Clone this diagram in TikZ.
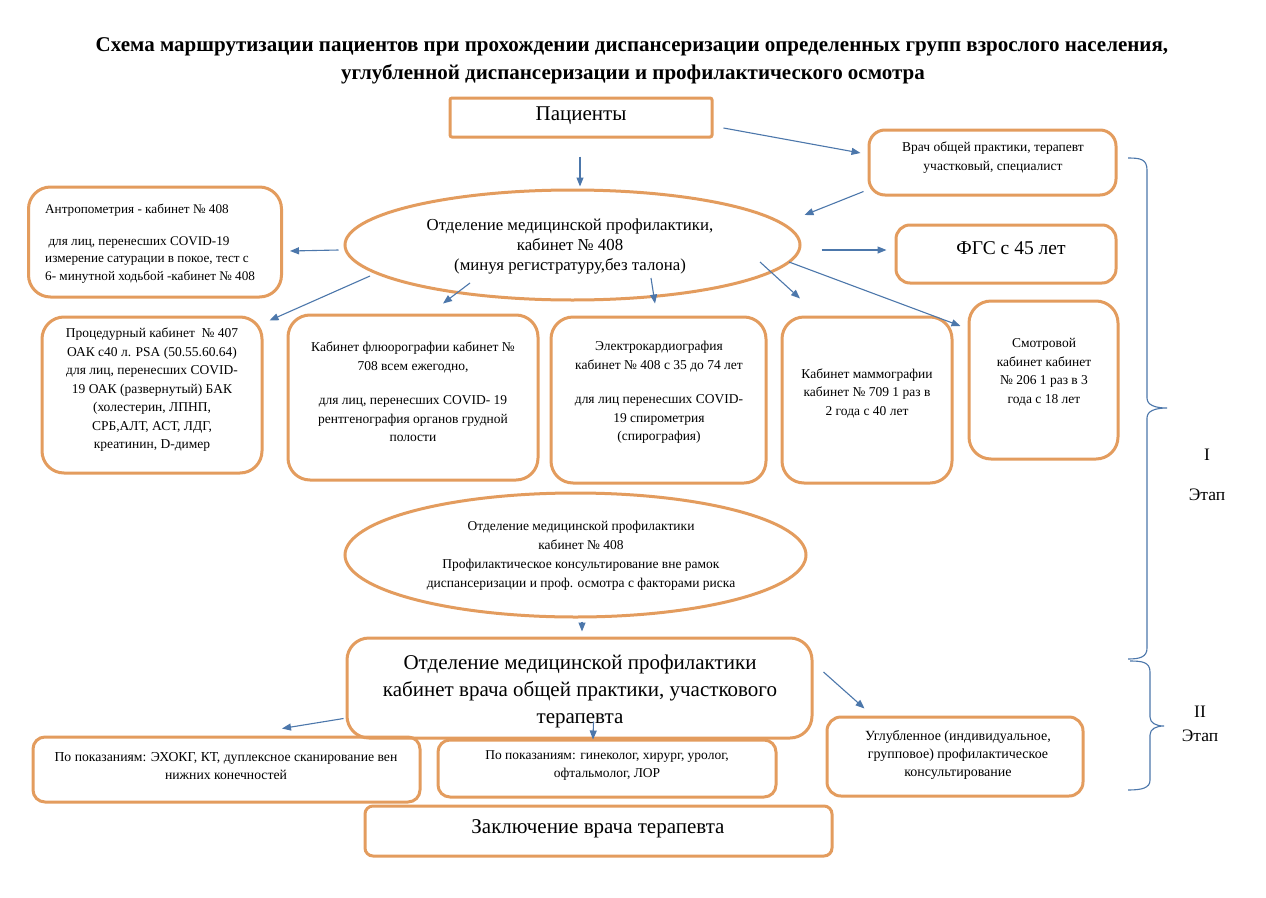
\documentclass[tikz,border=0pt]{standalone}
\usepackage{fontspec}
\setmainfont{Liberation Serif}
\usetikzlibrary{shapes.geometric,arrows.meta}
\definecolor{bord}{HTML}{E39C5E}
\definecolor{arr}{HTML}{4C77AB}
\begin{document}
\begin{tikzpicture}[x=1pt,y=-1pt,
  box/.style={draw=bord, line width=3pt, rounded corners=#1, inner sep=0pt},
  box/.default=22pt,
  oval/.style={draw=bord, line width=3pt, ellipse, inner sep=0pt},
  txt/.style={align=center, inner sep=0pt, font=\fontsize{13.5}{18.5}\selectfont},
  big/.style={align=center, inner sep=0pt, font=\fontsize{21}{27}\selectfont},
  ar/.style={draw=arr, line width=1.1pt, -{Triangle[length=9pt,width=7pt]}},
  brace/.style={draw=arr, line width=1.1pt},
  stage/.style={inner sep=0pt, font=\fontsize{17.5}{19}\selectfont}]
\fill[white] (0,0) rectangle (1266,897);
\useasboundingbox (0,0) rectangle (1266,897);

% title
\node[font=\fontsize{21}{24}\bfseries\selectfont, inner sep=0pt] (title1) at (632,47)
  {Схема маршрутизации пациентов при прохождении диспансеризации определенных групп взрослого населения,};
\node[font=\fontsize{21}{24}\bfseries\selectfont, inner sep=0pt] (title2) at (633,74)
  {углубленной диспансеризации и профилактического осмотра};

% boxes
\node[box=2pt, minimum width=262pt, minimum height=39pt] (pat) at (581,117.5) {};
\node[big] (pat-t) at (581,116) {Пациенты};

\node[box=16pt, minimum width=247pt, minimum height=65pt] (vrach) at (992.5,162.5) {};
\node[txt, font=\fontsize{13.5}{19}\selectfont] (vrach-t) at (993,157.5) {Врач общей практики, терапевт\\участковый, специалист};

\node[box, minimum width=253pt, minimum height=110pt] (antro) at (155,242) {};
\node[txt, align=left, anchor=west, font=\fontsize{13.2}{17.5}\selectfont] (antro-t) at (45,243.5)
  {Антропометрия - кабинет № 408\\[14pt] \ для лиц, перенесших COVID-19\\измерение сатурации в покое, тест с\\6- минутной ходьбой -кабинет № 408};

\node[oval, minimum width=455pt, minimum height=110pt] (e1) at (572.5,245) {};
\node[txt, font=\fontsize{16.8}{20}\selectfont] (e1-t) at (570,246)
  {Отделение медицинской профилактики,\\кабинет № 408\\(минуя регистратуру,без талона)};

\node[box=14pt, minimum width=220pt, minimum height=58pt] (fgs) at (1006,254) {};
\node[big, font=\fontsize{19.5}{24}\selectfont] (fgs-t) at (1011,248) {ФГС с 45 лет};

\node[box, minimum width=220pt, minimum height=156pt] (proc) at (152,395) {};
\node[txt] (proc-t) at (152,390)
  {Процедурный кабинет~~№ 407\\ОАК с40 л. PSA (50.55.60.64)\\для лиц, перенесших COVID-\\19 ОАК (развернутый) БАК\\(холестерин, ЛПНП,\\СРБ,АЛТ, АСТ, ЛДГ,\\креатинин, D-димер};

\node[box, minimum width=250pt, minimum height=165pt] (flu) at (413,397.5) {};
\node[txt] (flu-t) at (413,392)
  {Кабинет флюорографии кабинет №\\708 всем ежегодно,\\[16pt]для лиц, перенесших COVID- 19\\рентгенография органов грудной\\полости};

\node[box, minimum width=215pt, minimum height=166pt] (ekg) at (658.5,400) {};
\node[txt] (ekg-t) at (659,392.5)
  {Электрокардиография\\кабинет № 408 с 35 до 74 лет\\[16pt]для лиц перенесших COVID-\\19 спирометрия\\(спирография)};

\node[box, minimum width=170pt, minimum height=166pt] (mam) at (867,400) {};
\node[txt] (mam-t) at (867,393)
  {Кабинет маммографии\\кабинет № 709 1 раз в\\2 года с 40 лет};

\node[box, minimum width=149pt, minimum height=158pt] (smot) at (1043.5,380) {};
\node[txt] (smot-t) at (1044,372)
  {Смотровой\\кабинет кабинет\\№ 206 1 раз в 3\\года с 18 лет};

\node[oval, minimum width=461pt, minimum height=124pt] (e2) at (575.5,555) {};
\node[txt, font=\fontsize{13.5}{19}\selectfont] (e2-t) at (581,556)
  {Отделение медицинской профилактики\\кабинет № 408\\Профилактическое консультирование вне рамок\\диспансеризации и проф. осмотра с факторами риска};

\node[box, minimum width=465pt, minimum height=100pt] (otd) at (579.5,688) {};
\node[big] (otd-t) at (580,691)
  {Отделение медицинской профилактики\\кабинет врача общей практики, участкового\\терапевта};

\node[box=12pt, minimum width=387pt, minimum height=65pt] (exo) at (226.5,769.5) {};
\node[txt, font=\fontsize{13.7}{18}\selectfont] (exo-t) at (226,766)
  {По показаниям: ЭХОКГ, КТ, дуплексное сканирование вен\\нижних конечностей};

\node[box=12pt, minimum width=338pt, minimum height=57pt] (gin) at (607,768.5) {};
\node[txt, font=\fontsize{13.5}{18}\selectfont] (gin-t) at (607,766)
  {По показаниям: гинеколог, хирург, уролог,\\офтальмолог, ЛОР};

\node[box=14pt, minimum width=256pt, minimum height=79pt] (ugl) at (955,756.5) {};
\node[txt, font=\fontsize{14}{18}\selectfont] (ugl-t) at (958,755)
  {Углубленное (индивидуальное,\\групповое) профилактическое\\консультирование};

\node[box=8pt, minimum width=467pt, minimum height=50pt] (zak) at (598.5,831) {};
\node[big, font=\fontsize{21}{24}\selectfont] (zak-t) at (598,829) {Заключение врача терапевта};

% arrows
\draw[ar] ([shift={(-1,18)}]pat.south) -- ([shift={(-1,-2)}]pat.south |- e1.north);
\draw[ar] ([shift={(10,10.5)}]pat.east) -- ([shift={(-7,-9.5)}]vrach.west);
\draw[ar] ([shift={(-4,-5)}]vrach.south west) -- ([shift={(3,-30)}]e1.east);
\draw[ar] ([shift={(-5,5)}]e1.west) -- ([shift={(7,9)}]antro.east);
\draw[ar] ([shift={(20,5)}]e1.east) -- ([shift={(-8,-4)}]fgs.west);
\draw[ar] ([shift={(-202.5,31)}]e1.center) -- ([shift={(6,5)}]proc.north east);
\draw[ar] ([shift={(-102.5,38)}]e1.center) -- ([shift={(30,-10)}]flu.north);
\draw[ar] ([shift={(78.5,33)}]e1.center) -- ([shift={(-3.5,-12)}]ekg.north);
\draw[ar] ([shift={(187.5,17)}]e1.center) -- ([shift={(-67,-17)}]mam.north);
\draw[ar] ([shift={(216.5,17)}]e1.center) -- ([shift={(-7,-54)}]smot.west);
\draw[ar] ([shift={(6.5,3)}]e2.south) -- ([shift={(2.5,-5)}]otd.north);
\draw[ar] ([shift={(-2,-21)}]otd.south west) -- ([shift={(55.5,-7)}]exo.north);
\draw[ar] ([shift={(14,-18)}]otd.south) -- ([shift={(-14,1)}]gin.north);
\draw[ar] ([shift={(10,-16)}]otd.east) -- ([shift={(39,-7)}]ugl.north west);

% braces
\draw[brace] (1128,158) .. controls (1140,158) and (1147,159) .. (1147,170)
  -- (1147,398) .. controls (1147,405) and (1155,408) .. (1167,408)
  .. controls (1155,408) and (1147,411) .. (1147,418)
  -- (1147,648) .. controls (1147,657) and (1140,659) .. (1128,659);
\draw[brace] (1130,661) .. controls (1142,661) and (1150,662) .. (1150,672)
  -- (1150,717) .. controls (1150,723) and (1156,726) .. (1164,726)
  .. controls (1156,726) and (1150,729) .. (1150,735)
  -- (1150,780) .. controls (1150,788) and (1142,790) .. (1128,790);

\node[stage] (s1) at (1207,455) {I};
\node[stage] (s1e) at (1207,495) {Этап};
\node[stage] (s2) at (1200,712) {II};
\node[stage] (s2e) at (1200,736) {Этап};
\end{tikzpicture}
\end{document}
